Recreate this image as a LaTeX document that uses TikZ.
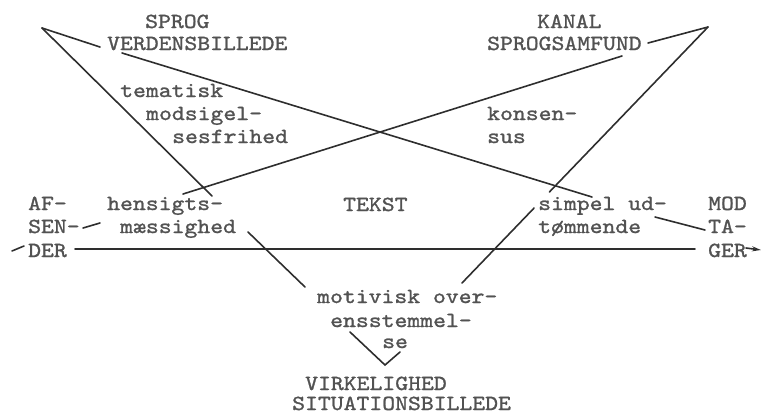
\documentclass[tikz,border=0pt]{standalone}
\usepackage{fontspec}
\usetikzlibrary{arrows.meta}
\newfontfamily\tw[FakeStretch=1.14,FakeBold=1.2]{lmmono10-regular.otf}
\begin{document}
\begin{tikzpicture}[x=1pt,y=-1pt,
  txt/.style={anchor=base west,inner sep=0pt,font=\tw\fontsize{21.5}{23}\selectfont,text=black!68},
  ln/.style={draw=black!82,line width=1.6pt,line cap=round}]
\useasboundingbox (0,0) rectangle (761,416);
% texts
\node[txt] (sprog) at (145,28) {SPROG};
\node[txt] (verdens) at (107,50) {VERDENSBILLEDE};
\node[txt] (kanal) at (537,28) {KANAL};
\node[txt] (sprogsam) at (487,50) {SPROGSAMFUND};
\node[txt] (tem1) at (120,97) {tematisk};
\node[txt] (tem2) at (146,120) {modsigel-};
\node[txt] (tem3) at (172,143) {sesfrihed};
\node[txt] (kon1) at (487,120) {konsen-};
\node[txt] (kon2) at (487,143) {sus};
\node[txt] (af1) at (28,210) {AF-};
\node[txt] (af2) at (28,233) {SEN-};
\node[txt] (af3) at (28,257) {DER};
\node[txt] (hen1) at (107,210) {hensigts-};
\node[txt] (hen2) at (120,233) {mæssighed};
\node[txt] (tekst) at (343,211) {TEKST};
\node[txt] (sim1) at (538,210) {simpel ud-};
\node[txt] (sim2) at (538,233) {tømmende};
\node[txt] (mod1) at (708,210) {MOD};
\node[txt] (mod2) at (708,233) {TA-};
\node[txt] (mod3) at (708,257) {GER};
\node[txt] (mot1) at (317,303) {motivisk over-};
\node[txt] (mot2) at (330,327) {ensstemmel-};
\node[txt] (mot3) at (382,348) {se};
\node[txt] (virk1) at (305,390) {VIRKELIGHED};
\node[txt] (virk2) at (292,410) {SITUATIONSBILLEDE};
% connector end points
\coordinate (apexL) at (42,28);
\coordinate (apexR) at (708,27);
\coordinate (vbA) at (100,47);
\coordinate (vbB) at (122,53);
\coordinate (henTop) at (212,196);
\coordinate (henL) at (183,194);
\coordinate (simTop) at (592,197);
\coordinate (samA) at (622,56);
\coordinate (samB) at (648,43);
\coordinate (simGapA) at (549.4,192);
\coordinate (simGapB) at (534.1,208);
\coordinate (motR) at (462,283);
\coordinate (maesR) at (248,232);
\coordinate (motL) at (305,287);
\coordinate (vL) at (350,332);
\coordinate (vB) at (385,365);
\coordinate (vR) at (400,352);
\coordinate (derR) at (75,249);
\coordinate (gerL) at (695,249);
\coordinate (senR) at (83,228);
\coordinate (henS) at (100,223);
\coordinate (tomR) at (655,217);
\coordinate (taL) at (705,230);
\coordinate (tickA) at (12,251);
\coordinate (tickB) at (24,246);
\coordinate (gerT) at (746,248);
\coordinate (gerTip) at (761,250);
% connectors
\draw[ln] (apexL) -- (vbA);
\draw[ln] (apexL) -- (henTop);
\draw[ln] (vbB) -- (simTop);
\draw[ln] (henL) -- (samA);
\draw[ln] (apexR) -- (samB);
\draw[ln] (apexR) -- (simGapA);
\draw[ln] (simGapB) -- (motR);
\draw[ln] (maesR) -- (motL);
\draw[ln] (vL) -- (vB) -- (vR);
\draw[ln] (derR) -- (gerL);
\draw[ln] (senR) -- (henS);
\draw[ln] (tomR) -- (taL);
\draw[ln] (tickA) -- (tickB);
\draw[ln,-{Stealth[length=9pt,width=5pt]}] (gerT) -- (gerTip);
\end{tikzpicture}
\end{document}
